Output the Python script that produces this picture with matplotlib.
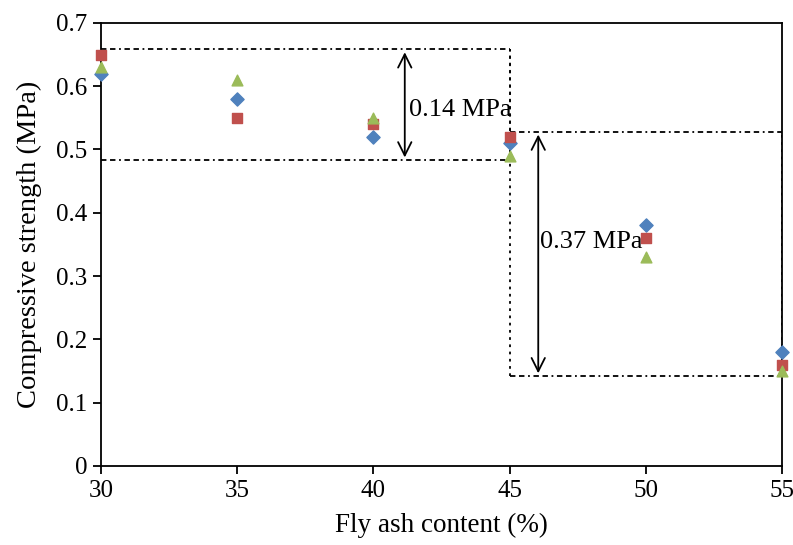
import numpy as np
import matplotlib.pyplot as plt

plt.rcParams['font.family'] = ['Liberation Serif', 'DejaVu Serif']

fly_ash = [30, 35, 40, 45, 50, 55]
series_a = [0.62, 0.58, 0.52, 0.51, 0.38, 0.18]   # blue diamonds
series_b = [0.65, 0.55, 0.54, 0.52, 0.36, 0.16]   # red squares
series_c = [0.63, 0.61, 0.55, 0.49, 0.33, 0.15]   # green triangles

box1 = [30, 45, 0.483, 0.658]
box2 = [45, 55, 0.142, 0.528]
labels = ["0.14 MPa", "0.37 MPa"]

fig = plt.figure(figsize=(7.93, 5.45), dpi=100)
ax = fig.add_axes([0.1274, 0.145, 0.8588, 0.813])

ls = (0, (3, 2, 3, 2, 1, 2))
for x0, x1, y0, y1 in [box1, box2]:
    ax.plot([x0, x1], [y1, y1], color='black', lw=1.3, ls=ls)
    ax.plot([x0, x1], [y0, y0], color='black', lw=1.3, ls=ls)
    ax.plot([x1, x1], [y0, y1], color='black', lw=1.3, ls=(0, (1.5, 2.5)))
ax.plot([45, 45], [box2[2], box1[3]], color='black', lw=1.3, ls=(0, (1.5, 2.5)))

ax.annotate('', xy=(41.15, box1[3]), xytext=(41.15, box1[2]),
            arrowprops=dict(arrowstyle='<->', color='black', lw=1.3, mutation_scale=24))
ax.annotate('', xy=(46.05, box2[3]), xytext=(46.05, box2[2]),
            arrowprops=dict(arrowstyle='<->', color='black', lw=1.3, mutation_scale=24))
ax.text(41.3, 0.563, labels[0], fontsize=19, va='center', ha='left')
ax.text(46.1, 0.354, labels[1], fontsize=19, va='center', ha='left')

ax.scatter(fly_ash, series_a, marker='D', s=45, color='#4F81BD', zorder=3, clip_on=False)
ax.scatter(fly_ash, series_b, marker='s', s=50, color='#C0504D', zorder=3, clip_on=False)
ax.scatter(fly_ash, series_c, marker='^', s=60, color='#9BBB59', zorder=3, clip_on=False)

ax.set_xlim(30, 55)
ax.set_ylim(0, 0.7)
ax.set_xticks(np.arange(30, 56, 5))
ax.set_yticks(np.arange(0, 0.71, 0.1))
ax.set_yticklabels(['0'] + ['%.1f' % v for v in np.arange(0.1, 0.71, 0.1)])
ax.tick_params(direction='out', length=6, width=1.3, labelsize=18, colors='black', pad=4)
for sp in ax.spines.values():
    sp.set_linewidth(1.3)
ax.set_xlabel('Fly ash content (%)', fontsize=19.5, labelpad=8)
ax.set_ylabel('Compressive strength (MPa)', fontsize=20.5, labelpad=10)

fig.savefig('out.png', dpi=100)
